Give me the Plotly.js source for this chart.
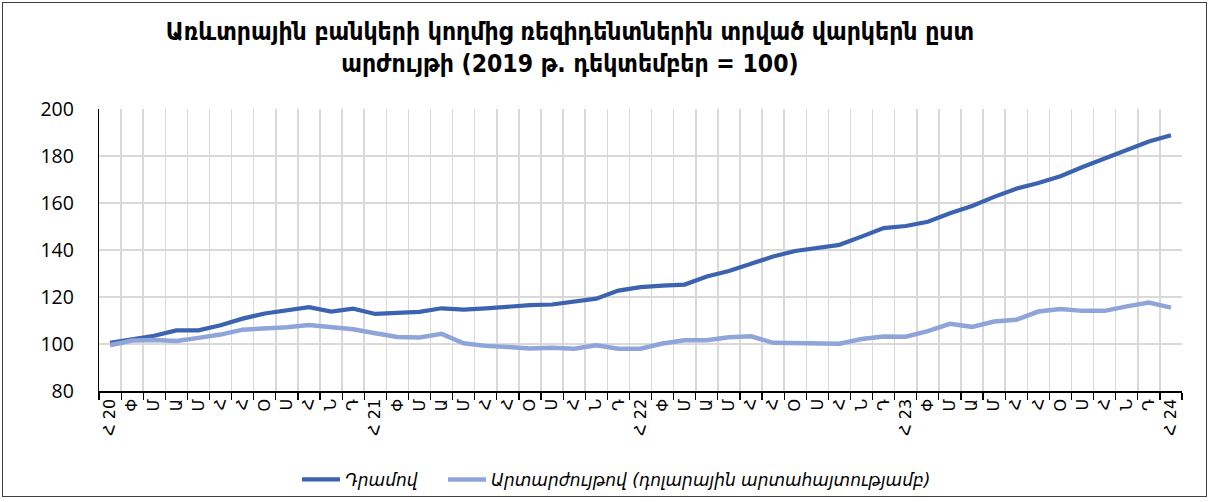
<!DOCTYPE html>
<html>
<head>
<meta charset="utf-8">
<script src="https://cdn.plot.ly/plotly-3.0.1.min.js"></script>
<style>
  html, body { margin: 0; padding: 0; background: #fff; }
  #wrap { position: relative; width: 1210px; height: 502px; }
  #chart { position: absolute; left: 0; top: 0; width: 1210px; height: 502px; }
  #frame { position: absolute; left: 2px; top: 2px; width: 1203px; height: 493px; border: 1px solid #404040; pointer-events: none; }
</style>
</head>
<body>
<div id="wrap"><div id="chart"></div><div id="frame"></div></div>
<script>
const monthAbbr = ["Հ", "Փ", "Մ", "Ա", "Մ", "Հ", "Հ", "Օ", "Ս", "Հ", "Ն", "Դ"];
const years = ["20", "21", "22", "23", "24"];

const dramSeries = [
  100.5, 102.0, 103.5, 105.8, 105.8, 108.0, 110.8, 113.0, 114.5, 115.7, 113.8, 115.0,
  112.8, 113.2, 113.7, 115.2, 114.6, 115.2, 115.9, 116.5, 116.8, 118.2, 119.3, 122.7,
  124.2, 124.8, 125.3, 128.7, 131.1, 134.1, 137.2, 139.6, 140.8, 142.2, 145.7, 149.3,
  150.2, 152.0, 155.6, 158.7, 162.6, 166.1, 168.5, 171.4, 175.3, 178.9, 182.7, 186.2,
  188.8
];
const fxSeries = [
  99.5, 101.5, 101.7, 101.3, 102.6, 104.0, 106.1, 106.5, 107.1, 108.1, 107.4, 106.3,
  104.6, 103.0, 102.8, 104.3, 100.3, 99.2, 98.7, 98.1, 98.4, 98.0, 99.5, 98.0,
  98.0, 100.2, 101.6, 101.6, 102.9, 103.3, 100.5, 100.5, 100.1, 100.1, 102.1, 103.2,
  103.1, 105.5, 108.6, 107.3, 109.6, 110.3, 113.8, 114.9, 114.1, 114.1, 116.0, 117.6,
  115.5
];
const seriesNames = ["Դրամով", "Արտարժույթով (դոլարային արտահայտությամբ)"];

// build tick labels: month abbreviation, year appended on January
const tickLabels = [];
for (let i = 0; i < dramSeries.length; i++) {
  const m = i % 12;
  const y = Math.floor(i / 12);
  tickLabels.push(m === 0 ? monthAbbr[m] + " " + years[y] : monthAbbr[m]);
}
const xIdx = tickLabels.map((_, i) => i);
const boundaries = [];
for (let i = 0; i <= xIdx.length; i++) boundaries.push(i - 0.5);

const traces = [
  { x: xIdx, y: dramSeries, name: seriesNames[0], type: "scatter", mode: "lines",
    line: { color: "#3C63AF", width: 4.2 }, legend: "legend" },
  { x: xIdx, y: fxSeries, name: seriesNames[1], type: "scatter", mode: "lines",
    line: { color: "#8FA4D8", width: 4.5 }, legend: "legend2" }
];

const legendFont = { family: "DejaVu Sans, sans-serif", size: 17, style: "italic", color: "#000" };

const layout = {
  width: 1210, height: 502,
  margin: { l: 99, r: 28, t: 109, b: 111, autoexpand: false },
  paper_bgcolor: "#ffffff", plot_bgcolor: "#ffffff",
  font: { family: "Open Sans, DejaVu Sans, sans-serif", color: "#000" },
  title: {
    text: "Առևտրային բանկերի կողմից ռեզիդենտներին տրված վարկերն ըստ<br>արժույթի (2019 թ. դեկտեմբեր = 100)",
    font: { family: "DejaVu Sans Condensed, DejaVu Sans, sans-serif", size: 24.5, weight: "bold", color: "#000" },
    x: 0.471, xanchor: "center", xref: "container",
    y: 0.921, yanchor: "top", yref: "container"
  },
  xaxis: {
    type: "linear",
    range: [-0.5, xIdx.length - 0.5],
    tickmode: "array", tickvals: xIdx, ticktext: tickLabels,
    tickangle: -90, ticks: "", showgrid: false,
    tickfont: { family: "DejaVu Sans, sans-serif", size: 16, color: "#000" },
    showline: true, linecolor: "#000", linewidth: 1.5,
    zeroline: false, automargin: false,
    minor: { tickmode: "array", tickvals: boundaries, ticks: "outside", ticklen: 7,
             tickcolor: "#000", tickwidth: 1.2, showgrid: true, gridcolor: "#d9d9d9", gridwidth: 1.5 },
    fixedrange: true
  },
  yaxis: {
    range: [80, 200], tickmode: "linear", tick0: 80, dtick: 20,
    showgrid: true, gridcolor: "#d9d9d9", gridwidth: 1.5,
    showline: true, linecolor: "#000", linewidth: 1.2,
    ticks: "", ticklabelstandoff: 20, zeroline: false, automargin: false,
    tickfont: { family: "Open Sans, sans-serif", size: 19.5, color: "#000" },
    fixedrange: true
  },
  showlegend: true,
  legend: {
    orientation: "h", x: (302 - 99 - 5) / 1083, xanchor: "left", y: -0.315, yanchor: "middle",
    font: legendFont, itemwidth: 38, bgcolor: "rgba(0,0,0,0)"
  },
  legend2: {
    orientation: "h", x: (448 - 99 - 5) / 1083, xanchor: "left", y: -0.315, yanchor: "middle",
    font: legendFont, itemwidth: 38, bgcolor: "rgba(0,0,0,0)"
  }
};

Plotly.newPlot("chart", traces, layout, { displayModeBar: false, staticPlot: true });
</script>
</body>
</html>
